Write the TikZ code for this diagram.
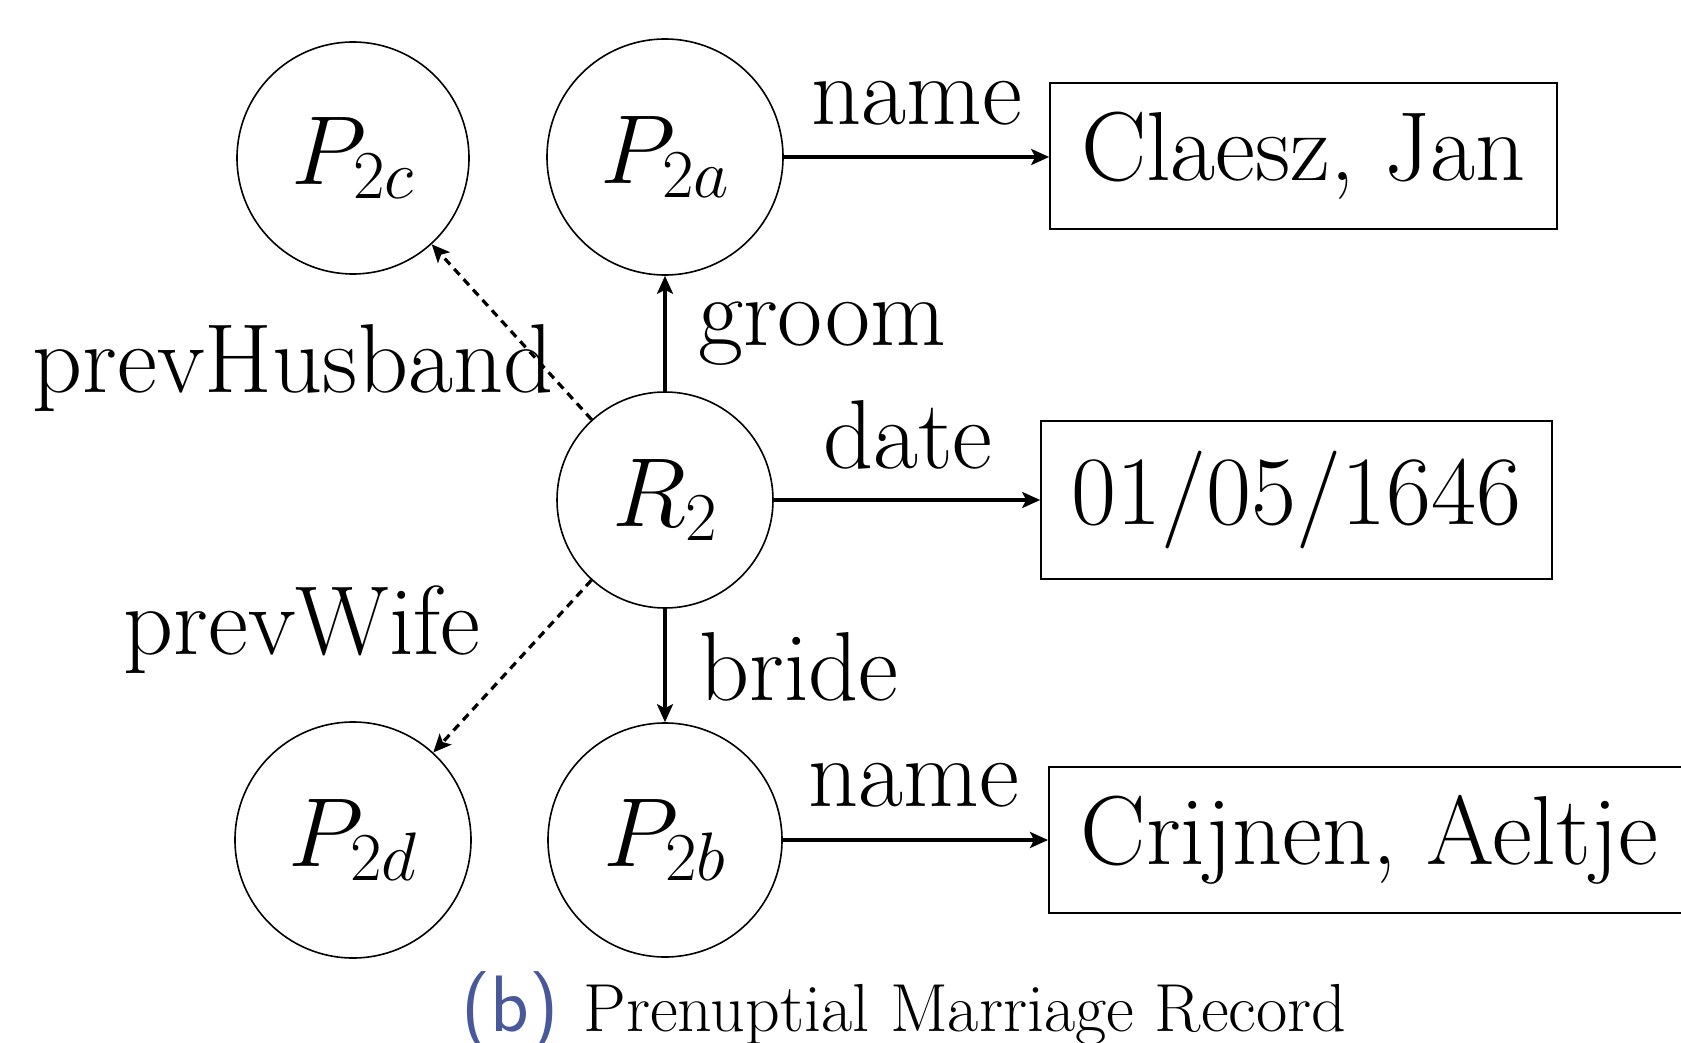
\RequirePackage{fix-cm}
\documentclass[tikz,border=0pt]{standalone}
\usetikzlibrary{arrows.meta}
\definecolor{capblue}{RGB}{72,88,155}
\begin{document}
\begin{tikzpicture}[x=0.5pt,y=-0.5pt,
  every node/.style={font=\fontsize{49}{59}\selectfont},
  circ/.style={draw,circle,line width=0.8pt,inner sep=0pt},
  valbox/.style={draw,rectangle,line width=0.8pt,inner sep=0pt},
  edge/.style={line width=1.6pt,-{Stealth[length=9pt,width=8pt,inset=2pt]}},
  dedge/.style={edge,dash pattern=on 4pt off 3pt},
  lab/.style={anchor=base}]
\useasboundingbox (0,0) rectangle (1681,1043);
\clip (0,0) rectangle (1681,1043);
\node[circ,minimum size=116pt] (p2c) at (353,158) {$P_{2c}$};
\node[circ,minimum size=118pt] (p2a) at (665,157) {$P_{2a}$};
\node[circ,minimum size=108pt] (r2) at (665,500) {$R_2$};
\node[circ,minimum size=118pt] (p2d) at (353,840) {$P_{2d}$};
\node[circ,minimum size=117pt] (p2b) at (665,840) {$P_{2b}$};
\node[valbox,minimum width=253.5pt,minimum height=73pt] (claesz) at (1303.5,156) {Claesz, Jan};
\node[valbox,minimum width=255.5pt,minimum height=79pt] (date) at (1296.5,500) {01/05/1646};
\node[valbox,anchor=west,inner xsep=16pt,minimum height=73pt] (crijnen) at (1048,840) {Crijnen, Aeltje};
\draw[edge] (p2a.east) -- (p2a.east -| claesz.west);
\draw[edge] (r2.east) -- (r2.east -| date.west);
\draw[edge] (p2b.east) -- (p2b.east -| crijnen.west);
\draw[edge] (r2) -- (p2a);
\draw[edge] (r2) -- (p2b);
\draw[dedge] (r2) -- (p2c);
\draw[dedge] (r2) -- (p2d);
\node[lab] (n1) at (917,125) {name};
\node[lab] (groom) at (822,345) {groom};
\node[lab] (dt) at (908,468) {date};
\node[lab] (br) at (799,700) {bride};
\node[lab] (n2) at (914,806) {name};
\node[lab] (ph) at (293,392) {prevHusband};
\node[lab] (pw) at (302,654) {prevWife};
\node[anchor=base west,font=\fontsize{40}{48}\sffamily,text=capblue,inner sep=0pt] (cb) at (461,1031) {(b)};
\node[anchor=base west,font=\fontsize{34}{40}\selectfont,inner sep=0pt] (ct) at (583,1031) {Prenuptial Marriage Record};
\end{tikzpicture}
\end{document}
